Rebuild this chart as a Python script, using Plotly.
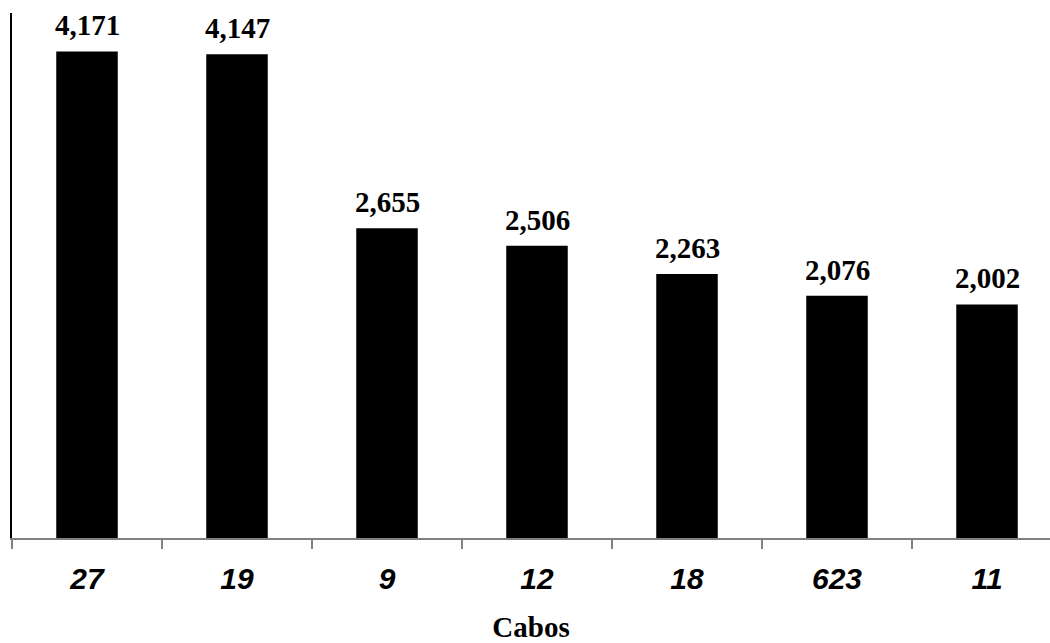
import plotly.graph_objects as go

# Cable counts per category
categories = ["27", "19", "9", "12", "18", "623", "11"]
values = [4171, 4147, 2655, 2506, 2263, 2076, 2002]

serif = "Liberation Serif, Times New Roman, serif"
sans = "Liberation Sans, Arial, sans-serif"

fig = go.Figure()
fig.add_trace(go.Bar(
    x=categories,
    y=values,
    marker=dict(color="black", line=dict(width=0)),
    width=0.41,
    hoverinfo="skip",
))

# value labels above each bar (category axis positions are indices)
for i, v in enumerate(values):
    fig.add_annotation(
        x=i, y=v, xref="x", yref="y", text=f"{v:,}", showarrow=False,
        yanchor="bottom", yshift=8,
        font=dict(family=serif, size=29, color="black", weight="bold"),
    )

fig.update_layout(
    width=1050, height=643,
    margin=dict(l=12, r=0, t=13, b=105),
    paper_bgcolor="white", plot_bgcolor="white",
    showlegend=False,
    xaxis=dict(
        type="category",
        range=[-0.5, 6.42],
        showline=True, linecolor="#808080", linewidth=1.5,
        ticks="outside", tickson="boundaries", ticklen=9,
        tickcolor="#808080", tickwidth=1.5,
        tickfont=dict(family=sans, size=30, color="black", weight="bold", style="italic"),
        ticklabelstandoff=13,
        showgrid=False,
        title=dict(text="Cabos", standoff=26,
                   font=dict(family=serif, size=29, color="black", weight="bold")),
    ),
    yaxis=dict(
        range=[0, 4500],
        showline=True, linecolor="black", linewidth=1.5,
        showticklabels=False, ticks="",
        showgrid=False, zeroline=False,
    ),
)

fig.write_html("out.html")
